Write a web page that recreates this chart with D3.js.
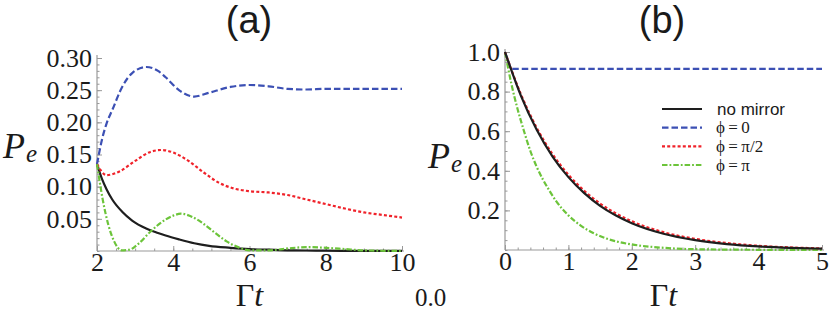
<!DOCTYPE html>
<html>
<head>
<meta charset="utf-8">
<script src="https://cdn.jsdelivr.net/npm/d3@7"></script>
<style>
	body { margin: 0; background: #fff; }
	svg { display: block; }
	.tick line { stroke: #999; }
	.axisline { stroke: #999; stroke-width: 1.2; }
	.curve { fill: none; stroke-width: 2.2; }
</style>
</head>
<body>
<svg id="chart" width="830" height="313"></svg>
<script>
//panel (a) values
var timesA = [2, 2.13, 2.25, 2.4, 2.66, 2.93, 3.29, 3.6, 3.8, 4.15, 4.55, 4.94, 5.5, 6.0, 6.5, 7.0, 7.5, 8, 9, 10];
var blackA = [0.135, 0.112, 0.096, 0.080, 0.061, 0.047, 0.035, 0.028, 0.024, 0.018, 0.012, 0.008, 0.005, 0.003, 0.002, 0.001, 0.0008, 0.0005, 0.0002, 0.0001];
var blueA = [0.135, 0.173, 0.198, 0.219, 0.255, 0.277, 0.286, 0.280, 0.270, 0.250, 0.240, 0.246, 0.255, 0.258, 0.256, 0.252, 0.251, 0.252, 0.252, 0.252];

var timesRedA = [2, 2.25, 2.6, 3, 3.4, 3.7, 4, 4.4, 4.8, 5.2, 5.6, 6, 6.5, 7, 7.5, 8, 8.5, 9, 9.5, 10];
var redA = [0.135, 0.118, 0.124, 0.140, 0.154, 0.157, 0.153, 0.140, 0.122, 0.106, 0.097, 0.093, 0.091, 0.087, 0.080, 0.073, 0.066, 0.060, 0.056, 0.052];

var timesGreenA = [2, 2.15, 2.3, 2.45, 2.65, 2.85, 3.1, 3.4, 3.7, 4.0, 4.2, 4.5, 4.8, 5.1, 5.4, 5.7, 6, 6.5, 7, 7.5, 8, 8.5, 9, 10];
var greenA = [0.135, 0.08, 0.04, 0.015, 0.001, 0.002, 0.012, 0.030, 0.045, 0.055, 0.058, 0.053, 0.042, 0.028, 0.015, 0.006, 0.001, 0.001, 0.004, 0.006, 0.005, 0.003, 0.001, 0];

//panel (b) values
var timesB = [0, 0.25, 0.5, 0.75, 1, 1.25, 1.5, 1.75, 2, 2.5, 3, 3.5, 4, 4.5, 5];
var blackB = [1.0, 0.78, 0.607, 0.472, 0.368, 0.287, 0.223, 0.174, 0.135, 0.082, 0.05, 0.03, 0.018, 0.011, 0.007];
var redB = [1.0, 0.787, 0.617, 0.484, 0.38, 0.299, 0.235, 0.185, 0.145, 0.09, 0.056, 0.035, 0.021, 0.013, 0.008];

var timesGreenB = [0, 0.1, 0.2, 0.3, 0.4, 0.5, 0.6, 0.7, 0.8, 1, 1.2, 1.4, 1.6, 1.8, 2, 2.5, 3, 4, 5];
var greenB = [1.0, 0.84, 0.71, 0.6, 0.5, 0.42, 0.355, 0.3, 0.25, 0.175, 0.122, 0.085, 0.058, 0.04, 0.028, 0.011, 0.004, 0.001, 0];

var timesBlueB = [0, 0.05, 0.1, 5];
var blueB = [1.0, 0.955, 0.915, 0.915];

//ticks
var xTicksA = [2, 4, 6, 8, 10];
var yTicksA = [0.05, 0.10, 0.15, 0.20, 0.25, 0.30];
var xTicksB = [0, 1, 2, 3, 4, 5];
var yTicksB = [0.2, 0.4, 0.6, 0.8, 1.0];

var legendLabels = ["no mirror", "\u03D5\u2009=\u20090", "\u03D5\u2009=\u2009\u03C0/2", "\u03D5\u2009=\u2009\u03C0"];

var COLORS = {black: "#1e1e1e", blue: "#3c50b4", red: "#f0222a", green: "#6cc43a"};
var DASHES = {black: null, blue: "6.5,3", red: "3,2.2", green: "5.5,2,1.8,2"};

var svg = d3.select("#chart");
var serif = "Liberation Serif, Times New Roman, Times, DejaVu Serif, serif";
var sans = "Liberation Sans, Arial, Helvetica, sans-serif";

function styleLabels(a) {
	a.select(".domain").remove();
	a.selectAll("text")
		.attr("font-family", serif)
		.attr("font-size", 26)
		.attr("fill", "#1a1a1a");
}

function drawPanel(p) {
	var x = d3.scaleLinear().domain(p.xDomain).range(p.xRange);
	var y = d3.scaleLinear().domain(p.yDomain).range(p.yRange);
	var g = svg.append("g");

	// minor ticks first, then major ones
	g.append("g")
		.attr("transform", "translate(0," + p.yRange[0] + ")")
		.call(d3.axisBottom(x).tickValues(p.xMinor).tickSize(-2.5).tickFormat(""))
		.call(function(a) { a.select(".domain").remove(); });
	g.append("g")
		.attr("transform", "translate(" + p.xRange[0] + ",0)")
		.call(d3.axisLeft(y).tickValues(p.yMinor).tickSize(-2.5).tickFormat(""))
		.call(function(a) { a.select(".domain").remove(); });

	g.append("g")
		.attr("transform", "translate(0," + p.yRange[0] + ")")
		.call(d3.axisBottom(x).tickValues(p.xTicks).tickSize(-5).tickPadding(2).tickFormat(d3.format("d")))
		.call(styleLabels);
	g.append("g")
		.attr("transform", "translate(" + p.xRange[0] + ",0)")
		.call(d3.axisLeft(y).tickValues(p.yTicks).tickSize(-5).tickPadding(5).tickFormat(d3.format(p.yFormat)))
		.call(styleLabels);

	// the axis lines themselves
	g.append("line").attr("class", "axisline")
		.attr("x1", p.xRange[0]).attr("x2", p.xRange[1] + 2)
		.attr("y1", p.yRange[0]).attr("y2", p.yRange[0]);
	g.append("line").attr("class", "axisline")
		.attr("x1", p.xRange[0]).attr("x2", p.xRange[0])
		.attr("y1", p.yRange[0]).attr("y2", p.yRange[1] - 3);

	var line = d3.line()
		.x(function(d) { return x(d[0]); })
		.y(function(d) { return y(d[1]); })
		.curve(d3.curveMonotoneX);

	p.series.forEach(function(s) {
		g.append("path")
			.datum(d3.zip(s.t, s.v))
			.attr("class", "curve")
			.attr("stroke", COLORS[s.key])
			.attr("stroke-dasharray", DASHES[s.key])
			.attr("d", line);
	});

	// panel title
	g.append("text")
		.attr("x", p.titleX).attr("y", 33)
		.attr("text-anchor", "middle")
		.attr("font-family", sans).attr("font-size", 38).attr("fill", "#1a1a1a")
		.text(p.title);

	// P_e label
	var pe = g.append("text")
		.attr("x", p.peX).attr("y", p.peY)
		.attr("font-family", serif).attr("font-style", "italic").attr("fill", "#1a1a1a");
	pe.append("tspan").attr("font-size", 36).text("P");
	pe.append("tspan").attr("font-size", 25).attr("dy", 4).attr("dx", 1).text("e");

	// Gamma t label
	var gt = g.append("text")
		.attr("x", (p.xRange[0] + p.xRange[1]) / 2).attr("y", 306)
		.attr("text-anchor", "middle")
		.attr("font-family", serif).attr("font-size", 32).attr("fill", "#1a1a1a");
	gt.append("tspan").text("\u0393");
	gt.append("tspan").attr("font-style", "italic").text("t");
}

drawPanel({
	title: "(a)", titleX: 249,
	xDomain: [2, 10], xRange: [97, 402],
	yDomain: [0, 0.30], yRange: [251, 58],
	xTicks: xTicksA, yTicks: yTicksA, yFormat: ".2f",
	xMinor: d3.range(2, 10.01, 0.5), yMinor: d3.range(0, 0.301, 0.01),
	peX: 3, peY: 158,
	series: [
		{key: "black", t: timesA, v: blackA},
		{key: "blue", t: timesA, v: blueA},
		{key: "red", t: timesRedA, v: redA},
		{key: "green", t: timesGreenA, v: greenA}
	]
});

drawPanel({
	title: "(b)", titleX: 662,
	xDomain: [0, 5], xRange: [505, 822],
	yDomain: [0, 1.0], yRange: [250, 52],
	xTicks: xTicksB, yTicks: yTicksB, yFormat: ".1f",
	xMinor: d3.range(0, 5.01, 0.2), yMinor: d3.range(0, 1.001, 0.05),
	peX: 428, peY: 168,
	series: [
		{key: "blue", t: timesBlueB, v: blueB},
		{key: "green", t: timesGreenB, v: greenB},
		{key: "red", t: timesB, v: redB},
		{key: "black", t: timesB, v: blackB}
	]
});

// stray "0.0" label below the panels
svg.append("text")
	.attr("x", 415).attr("y", 306)
	.attr("font-family", serif).attr("font-size", 25).attr("fill", "#1a1a1a")
	.text("0.0");

//legend for panel (b)
var legendKeys = ["black", "blue", "red", "green"];
var legendY = d3.scalePoint().domain(legendKeys).range([109, 165]);
var legend = svg.append("g");
legendKeys.forEach(function(k, i) {
	legend.append("line")
		.attr("x1", 662).attr("x2", 702)
		.attr("y1", legendY(k)).attr("y2", legendY(k))
		.attr("stroke", COLORS[k]).attr("stroke-width", 2.2)
		.attr("stroke-dasharray", DASHES[k]);
	legend.append("text")
		.attr("x", i == 0 ? 717 : 716).attr("y", legendY(k))
		.attr("dy", "0.33em")
		.attr("font-family", i == 0 ? sans : serif)
		.attr("font-size", 17)
		.attr("fill", "#1a1a1a")
		.text(legendLabels[i]);
});
</script>
</body>
</html>
